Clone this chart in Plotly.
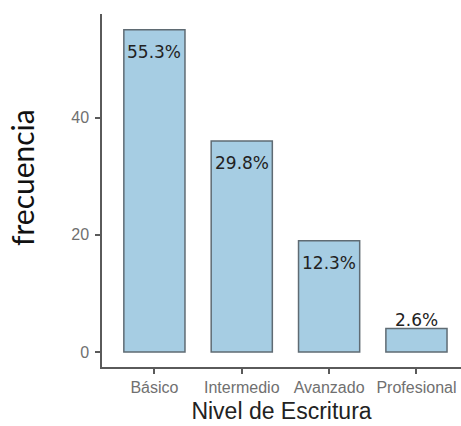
import plotly.graph_objects as go

categories = ["Básico", "Intermedio", "Avanzado", "Profesional"]
counts = [55, 36, 19, 4]
pct_labels = ["55.3%", "29.8%", "12.3%", "2.6%"]
y_ticks = [0, 20, 40]

label_shift = [-22, -22, -22, 9]

fig = go.Figure(
    go.Bar(
        x=categories,
        y=counts,
        width=0.7,
        marker=dict(color="#a6cde3", line=dict(color="#5f6b73", width=1.5)),
        hoverinfo="skip",
    )
)

for c, v, t, s in zip(categories, counts, pct_labels, label_shift):
    fig.add_annotation(
        x=c, y=v, xref="x", yref="y", text=t, showarrow=False,
        yshift=s, yanchor="middle",
        font=dict(family="DejaVu Sans", size=17, color="#222222"),
    )

fig.add_annotation(
    x=-0.223, y=0.538, xref="paper", yref="paper", text="frecuencia",
    textangle=-90, showarrow=False, xanchor="center", yanchor="middle",
    font=dict(family="Lato", size=30, color="#111111"),
)

axis_common = dict(
    showline=True, linecolor="#5a5a5a", linewidth=1.5,
    ticks="outside", ticklen=5, tickcolor="#5a5a5a", tickwidth=1.5,
    showgrid=False, zeroline=False,
    tickfont=dict(family="Liberation Sans", size=16, color="#707070"),
)

fig.update_layout(
    width=461, height=426,
    margin=dict(l=102, r=0, t=14, b=59),
    plot_bgcolor="white", paper_bgcolor="white",
    showlegend=False,
    xaxis=dict(
        range=[-0.6, 3.51],
        title=dict(text="Nivel de Escritura", standoff=8,
                   font=dict(family="Liberation Sans", size=23, color="#222222")),
        **axis_common,
    ),
    yaxis=dict(range=[-2.56, 57.7], tickvals=y_ticks, ticklabelstandoff=3,
               **axis_common),
)

fig.write_html(
    "out.html",
    config={"displayModeBar": False},
    post_script="document.body.style.margin='0';document.body.style.padding='0';",
)
